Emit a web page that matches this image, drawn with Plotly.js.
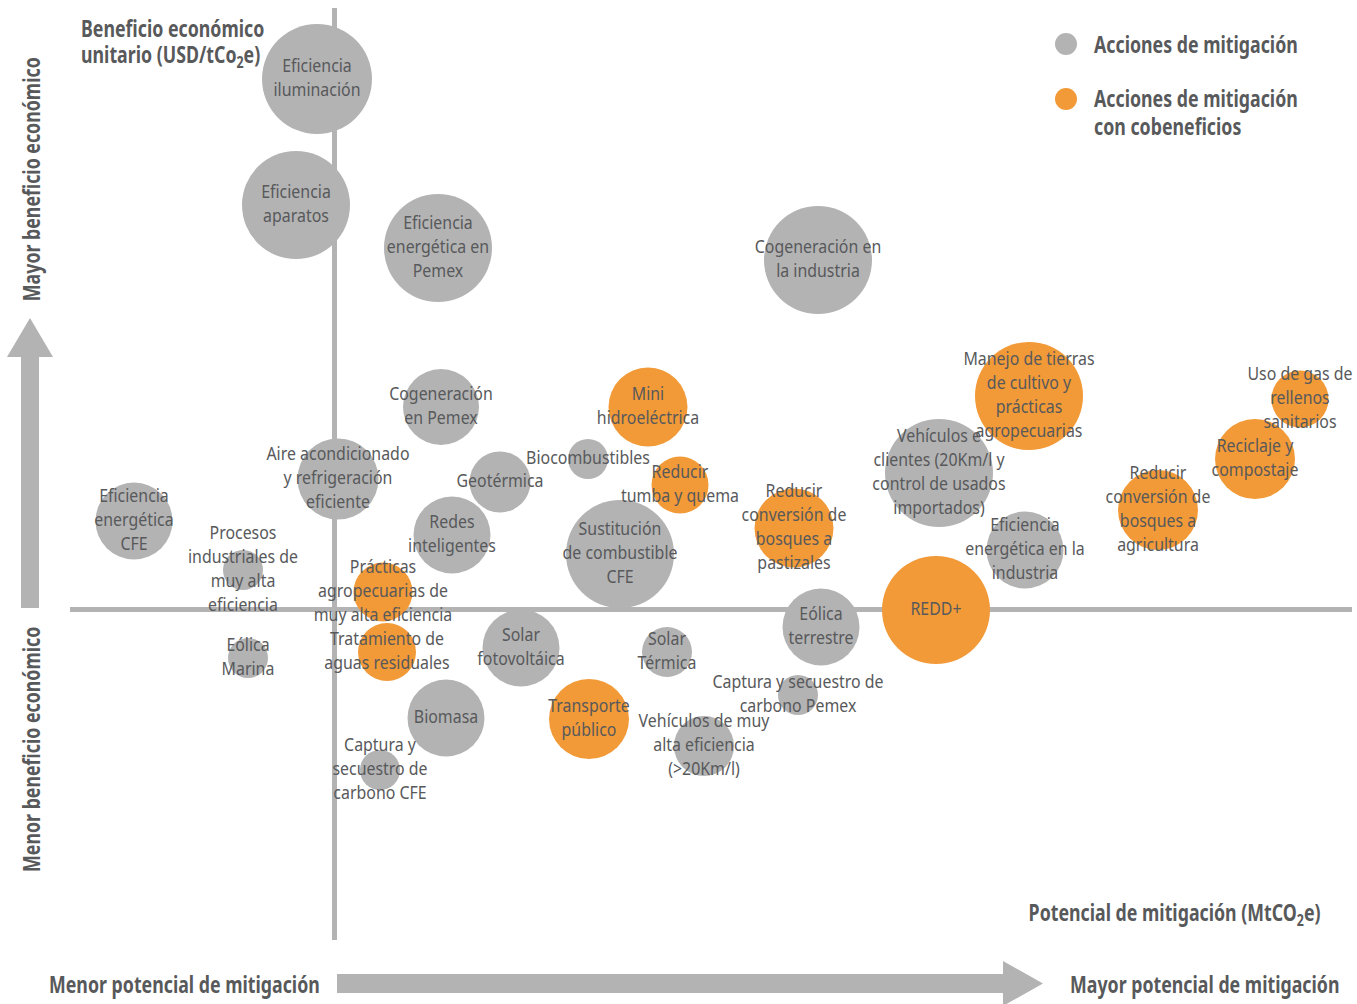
<!DOCTYPE html>
<html>
<head>
<meta charset="utf-8">
<script src="https://cdn.plot.ly/plotly-3.0.1.min.js"></script>
<style>
html,body{margin:0;padding:0;background:#fff;}
#chart{width:1357px;height:1004px;}
/* narrow the text horizontally to mimic the condensed typeface of the original */
#chart g.textpoint text{transform-box:fill-box;transform-origin:center;transform:scaleX(0.86);}
#chart g.annotation text{transform-box:fill-box;transform-origin:left center;transform:scaleX(0.74);}
#chart g.annotation[data-index="5"] text,
#chart g.annotation[data-index="6"] text{transform-origin:center;}
#chart g.annotation[data-index="9"] text{transform-origin:right center;}
</style>
</head>
<body>
<div id="chart"></div>
<script>
// Acciones de mitigación (names), label text, potencial (x), beneficio (y), tamaño (diameter), grupo
const acciones = [
  "Eficiencia iluminación","Eficiencia aparatos","Eficiencia energética en Pemex","Cogeneración en la industria",
  "Cogeneración en Pemex","Mini hidroeléctrica","Manejo de tierras de cultivo y prácticas agropecuarias",
  "Uso de gas de rellenos sanitarios","Reciclaje y compostaje","Biocombustibles","Reducir tumba y quema",
  "Aire acondicionado y refrigeración eficiente","Geotérmica","Vehículos eficientes (20Km/l) y control de usados importados",
  "Reducir conversión de bosques a agricultura","Eficiencia energética CFE","Redes inteligentes",
  "Sustitución de combustible CFE","Reducir conversión de bosques a pastizales","Eficiencia energética en la industria",
  "Procesos industriales de muy alta eficiencia","Prácticas agropecuarias de muy alta eficiencia","REDD+",
  "Eólica terrestre","Solar fotovoltáica","Solar Térmica","Eólica Marina","Tratamiento de aguas residuales",
  "Captura y secuestro de carbono Pemex","Biomasa","Transporte público","Vehículos de muy alta eficiencia (>20Km/l)",
  "Captura y secuestro de carbono CFE"
];
const etiquetas = [
  "Eficiencia<br>iluminación","Eficiencia<br>aparatos","Eficiencia<br>energética en<br>Pemex","Cogeneración en<br>la industria",
  "Cogeneración<br>en Pemex","Mini<br>hidroeléctrica","Manejo de tierras<br>de cultivo y<br>prácticas<br>agropecuarias",
  "Uso de gas de<br>rellenos<br>sanitarios","Reciclaje y<br>compostaje","Biocombustibles","Reducir<br>tumba y quema",
  "Aire acondicionado<br>y refrigeración<br>eficiente","Geotérmica","Vehículos e<br>clientes (20Km/l y<br>control de usados<br>importados)",
  "Reducir<br>conversión de<br>bosques a<br>agricultura","Eficiencia<br>energética<br>CFE","Redes<br>inteligentes",
  "Sustitución<br>de combustible<br>CFE","Reducir<br>conversión de<br>bosques a<br>pastizales","Eficiencia<br>energética en la<br>industria",
  "Procesos<br>industriales de<br>muy alta<br>eficiencia","Prácticas<br>agropecuarias de<br>muy alta eficiencia","REDD+",
  "Eólica<br>terrestre","Solar<br>fotovoltáica","Solar<br>Térmica","Eólica<br>Marina","Tratamiento de<br>aguas residuales",
  "Captura y secuestro de<br>carbono Pemex","Biomasa","Transporte<br>público","Vehículos de muy<br>alta eficiencia<br>(&gt;20Km/l)",
  "Captura y<br>secuestro de<br>carbono CFE"
];
const potencial = [-17,-38,104,484, 107,314,695, 966,921,254,346, 4,166,605, 824,-200,118, 286,460,691, -91,49,602, 487,187,333,-86,53, 464,112,255,370, 46];
const beneficio = [530,404,361,349, 202,202,213, 210,150,150,124, 130,127,136, 99,88,74, 55,81,59, 39,17,-1, -18,-39,-43,-49,-43, -86,-109,-110,-137, -161];
const tamano    = [110,108,108,108, 76,79,108, 57,80,40,57, 81,61,108, 80,77,77, 108,79,77, 40,59,108, 77,77,50,40,58, 40,77,80,60, 40];
const grupo     = ["g","g","g","g", "g","o","o", "o","o","g","o", "g","g","g", "o","g","g", "g","o","g", "g","o","o", "g","g","g","g","o", "g","g","o","g", "g"];

const GRIS = "#b3b3b3", NARANJA = "#f29a38", TEXTO = "#58595b";
const FONT = "'Noto Sans', 'DejaVu Sans', sans-serif";

function subset(arr, g){ return arr.filter((_, i) => grupo[i] === g); }

const traces = [
  {type:"scatter", mode:"markers", name:"Acciones de mitigación",
   x: subset(potencial,"g"), y: subset(beneficio,"g"), text: subset(acciones,"g"),
   marker:{size: subset(tamano,"g"), sizemode:"diameter", sizeref:1, color:GRIS, opacity:1, line:{width:0}},
   hoverinfo:"text"},
  {type:"scatter", mode:"markers", name:"Acciones de mitigación con cobeneficios",
   x: subset(potencial,"o"), y: subset(beneficio,"o"), text: subset(acciones,"o"),
   marker:{size: subset(tamano,"o"), sizemode:"diameter", sizeref:1, color:NARANJA, opacity:1, line:{width:0}},
   hoverinfo:"text"},
  {type:"scatter", mode:"text", x: potencial, y: beneficio, text: etiquetas,
   textposition:"middle center", textfont:{family:FONT, size:18.5, color:TEXTO},
   hoverinfo:"skip", cliponaxis:false, showlegend:false}
];

// pixel -> paper helpers (plot area: x 70..1352, y 8..940)
const X = px => (px - 70) / 1282;
const Y = py => (940 - py) / 932;

const TF = {family:FONT, size:24, color:TEXTO, weight:"bold"};

function ann(text, px, py, xanchor, font, extra){
  return Object.assign({text:text, xref:"paper", yref:"paper", x:X(px), y:Y(py), xanchor:xanchor, yanchor:"middle",
    showarrow:false, font:font, borderpad:0}, extra || {});
}

const annotations = [
  ann("Beneficio económico", 80, 27, "left", TF),
  ann("unitario (USD/tCo<sub>2</sub>e)", 80, 55, "left", TF),
  ann("Acciones de mitigación", 1093, 43, "left", TF),
  ann("Acciones de mitigación", 1093, 98, "left", TF),
  ann("con cobeneficios", 1093, 125, "left", TF),
  ann("Mayor beneficio económico", 30, 179, "center", TF, {textangle:-90}),
  ann("Menor beneficio económico", 30, 750, "center", TF, {textangle:-90}),
  ann("Menor potencial de mitigación", 48, 983, "left", TF),
  ann("Mayor potencial de mitigación", 1069, 983, "left", TF),
  ann("Potencial de mitigación (MtCO<sub>2</sub>e)", 1322, 913, "right", TF)
];

function poly(pts){ return "M " + pts.map(p => X(p[0]) + "," + Y(p[1])).join(" L ") + " Z"; }

const shapes = [
  {type:"path", xref:"paper", yref:"paper", layer:"below", line:{width:0}, fillcolor:GRIS,
   path: poly([[21,608],[39,608],[39,357],[53,357],[30,318],[7,357],[21,357]])},
  {type:"path", xref:"paper", yref:"paper", layer:"below", line:{width:0}, fillcolor:GRIS,
   path: poly([[337,974],[1003,974],[1003,961],[1043,983.5],[1003,1006],[1003,993],[337,993]])},
  {type:"circle", xref:"paper", yref:"paper", x0:X(1055), x1:X(1077), y0:Y(33), y1:Y(55), fillcolor:GRIS, line:{width:0}},
  {type:"circle", xref:"paper", yref:"paper", x0:X(1055), x1:X(1077), y0:Y(88), y1:Y(110), fillcolor:NARANJA, line:{width:0}}
];

const layout = {
  width:1357, height:1004,
  margin:{l:70, r:5, t:8, b:64},
  paper_bgcolor:"#ffffff", plot_bgcolor:"#ffffff",
  showlegend:false, hovermode:"closest",
  font:{family:FONT},
  xaxis:{range:[-264,1018], showgrid:false, showticklabels:false, ticks:"", showline:false,
         zeroline:true, zerolinecolor:GRIS, zerolinewidth:5, fixedrange:true},
  yaxis:{range:[-331,601], showgrid:false, showticklabels:false, ticks:"", showline:false,
         zeroline:true, zerolinecolor:GRIS, zerolinewidth:5, fixedrange:true},
  annotations: annotations,
  shapes: shapes
};

Plotly.newPlot("chart", traces, layout, {displayModeBar:false});
</script>
</body>
</html>
